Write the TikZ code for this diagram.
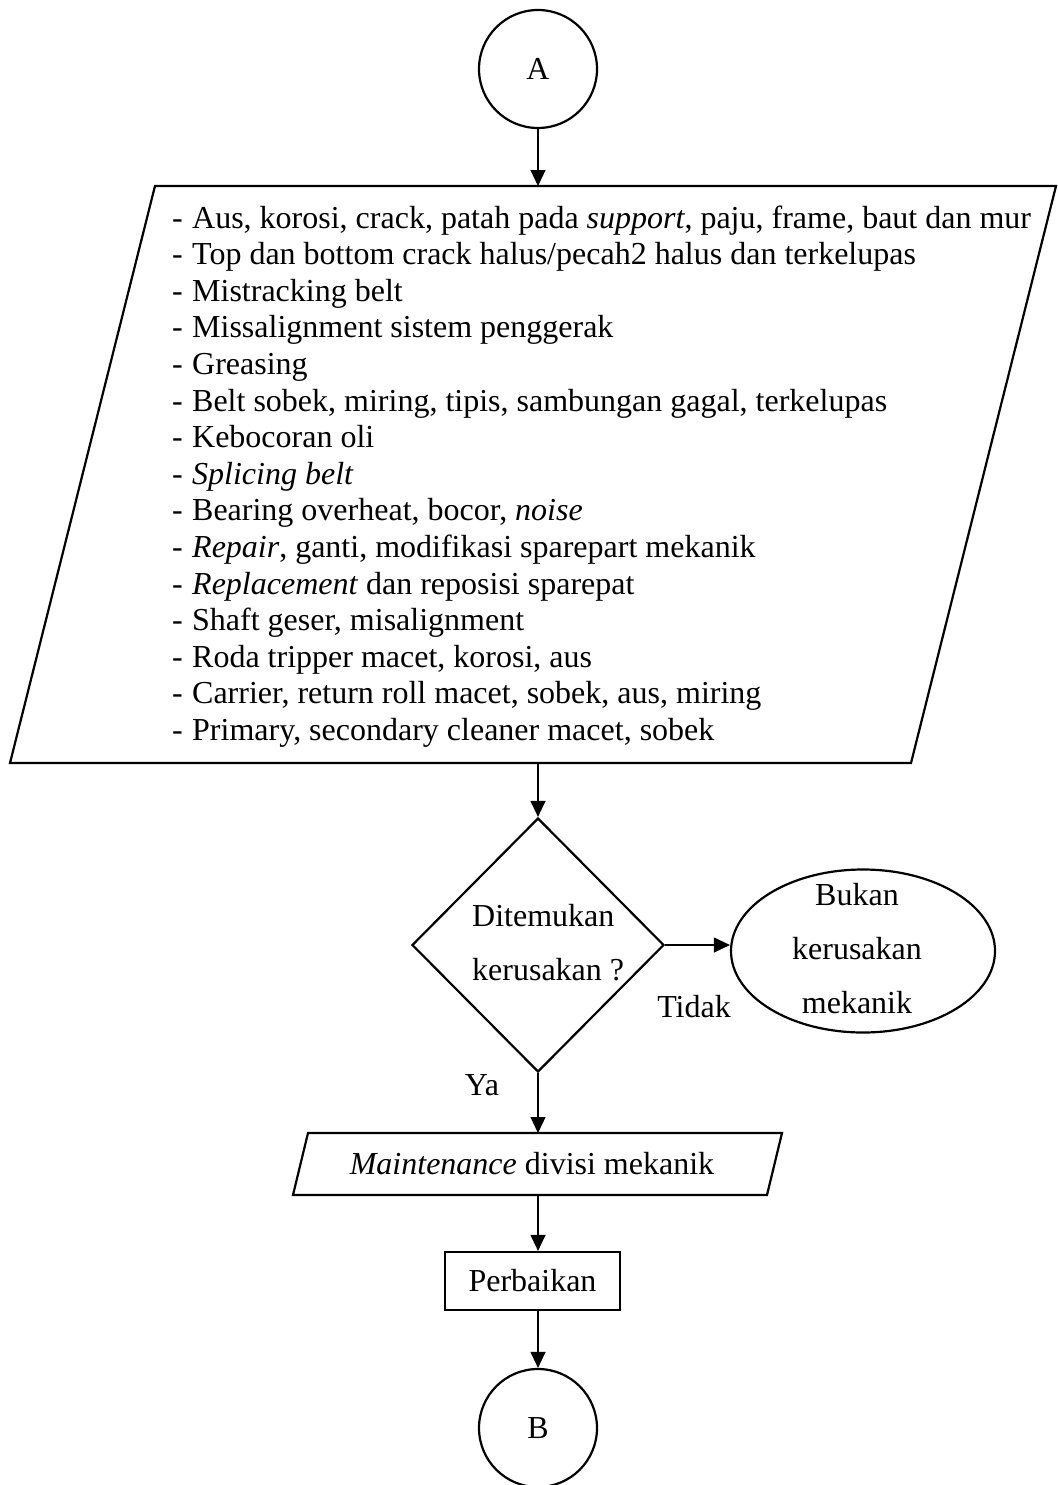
\documentclass[tikz,border=0pt]{standalone}
\usepackage{fontspec}
\setmainfont{Liberation Serif}
\usetikzlibrary{shapes.geometric,arrows.meta}
\begin{document}
\begin{tikzpicture}[x=1pt,y=-1pt,
  outline/.style={draw,line width=2.2pt},
  flow/.style={line width=1.2pt,-{Triangle[length=16pt,width=15pt]}},
  lbl/.style={font=\fontsize{32}{36.6}\selectfont,inner sep=0pt},
  wide/.style={font=\fontsize{32}{54}\selectfont,inner sep=0pt}]
\useasboundingbox (0,0) rectangle (1057,1485);

% connector A
\node[outline,circle,minimum size=118pt,lbl] (A) at (538,69) {A};

% input: list of inspection findings
\draw[outline] (155,186) -- (1056,186) -- (911,763) -- (10,763) -- cycle;
\coordinate (P1t) at (538,186);
\coordinate (P1b) at (538,763);
\newcommand{\dashitem}[1]{\makebox[20pt][l]{-}#1\\}
\node[lbl,anchor=base west] (list) at (172,228) {\begin{tabular}[t]{@{}l@{}}
\dashitem{Aus, korosi, crack, patah pada \textit{support}, paju, frame, baut dan mur}
\dashitem{Top dan bottom crack halus/pecah2 halus dan terkelupas}
\dashitem{Mistracking belt}
\dashitem{Missalignment sistem penggerak}
\dashitem{Greasing}
\dashitem{Belt sobek, miring, tipis, sambungan gagal, terkelupas}
\dashitem{Kebocoran oli}
\dashitem{\textit{Splicing belt}}
\dashitem{Bearing overheat, bocor, \textit{noise}}
\dashitem{\textit{Repair}, ganti, modifikasi sparepart mekanik}
\dashitem{\textit{Replacement} dan reposisi sparepat}
\dashitem{Shaft geser, misalignment}
\dashitem{Roda tripper macet, korosi, aus}
\dashitem{Carrier, return roll macet, sobek, aus, miring}
\makebox[20pt][l]{-}Primary, secondary cleaner macet, sobek
\end{tabular}};

% decision
\node[outline,diamond,minimum width=252pt,minimum height=254pt,inner sep=0pt] (D) at (538,945) {};
\node[wide,anchor=west,align=left] (Dtxt) at (472,943) {Ditemukan\\kerusakan ?};

% terminal outcome
\node[outline,ellipse,minimum width=264pt,minimum height=163pt,inner sep=0pt] (E) at (863,951) {};
\node[wide,align=center] (Etxt) at (857,949) {Bukan\\kerusakan\\mekanik};

\node[lbl] (tidak) at (694,1007) {Tidak};
\node[lbl] (ya) at (482,1085) {Ya};

% maintenance input
\draw[outline] (308,1133) -- (782,1133) -- (767,1195) -- (293,1195) -- cycle;
\coordinate (P2t) at (538,1133);
\coordinate (P2b) at (538,1195);
\node[lbl] (maint) at (532,1164) {\textit{Maintenance} divisi mekanik};

% process
\node[outline,rectangle,minimum width=175pt,minimum height=58pt,lbl] (R) at (532.5,1281) {Perbaikan};

% connector B
\node[outline,circle,minimum size=118pt,lbl] (B) at (538,1428) {B};

% connectors
\draw[flow] (A.south) -- (P1t);
\draw[flow] (P1b) -- (D.north);
\draw[flow] (D.east) -- (E.west |- D.east);
\draw[flow] (D.south) -- (P2t);
\draw[flow] (P2b) -- (P2b |- R.north);
\draw[flow] (P2b |- R.south) -- (B.north);
\end{tikzpicture}
\end{document}
